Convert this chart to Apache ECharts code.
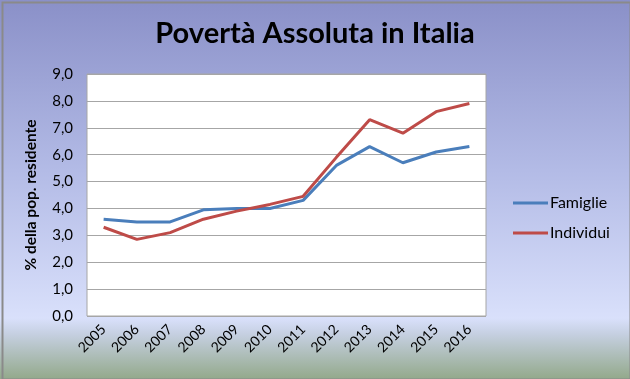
<!DOCTYPE html>
<html><head><meta charset="utf-8">
<script src="https://cdn.jsdelivr.net/npm/echarts@6/dist/echarts.min.js"></script>
<style>html,body{margin:0;padding:0;}#c{width:630px;height:379px;}</style>
</head><body><div id="c"></div>
<script>
var years = ['2005','2006','2007','2008','2009','2010','2011','2012','2013','2014','2015','2016'];
var famiglie = [3.6, 3.5, 3.5, 3.95, 4.0, 4.0, 4.3, 5.6, 6.3, 5.7, 6.1, 6.3];
var individui = [3.3, 2.85, 3.1, 3.6, 3.9, 4.15, 4.45, 5.9, 7.3, 6.8, 7.6, 7.9];
var seriesNames = ['Famiglie', 'Individui'];
var titleText = 'Povertà Assoluta in Italia';
var yAxisName = '% della pop. residente';

var chart = echarts.init(document.getElementById('c'), null, {renderer: 'canvas'});
var font = 'Lato, "Open Sans", sans-serif';
chart.setOption({
  animation: false,
  backgroundColor: {
    type: 'linear', x: 0, y: 0, x2: 0, y2: 1,
    colorStops: [
      {offset: 0, color: '#8a90c8'},
      {offset: 0.45, color: '#b3bbe6'},
      {offset: 0.84, color: '#d9e0fb'},
      {offset: 0.88, color: '#c6d0e2'},
      {offset: 1, color: '#93a98b'}
    ]
  },
  graphic: [{
    type: 'rect', left: 0, top: 0, z: 100, silent: true,
    shape: {x: 1, y: 1, width: 628, height: 377},
    style: {fill: 'none', stroke: '#8a8a8a', lineWidth: 2}
  }],
  title: {
    text: titleText, left: 'center', top: 14,
    textStyle: {fontFamily: font, fontWeight: 'bold', fontSize: 29, color: '#000'}
  },
  grid: {left: 87, right: 144, top: 74, bottom: 63, show: true, backgroundColor: '#fff', borderColor: '#a6a6a6', borderWidth: 1},
  legend: {
    orient: 'vertical', left: 508, top: 190, itemGap: 14,
    itemWidth: 35, itemHeight: 3, icon: 'rect',
    data: seriesNames,
    textStyle: {fontFamily: font, fontSize: 16, color: '#000', padding: [0,0,0,-3]}
  },
  xAxis: {
    type: 'category', data: years, boundaryGap: true,
    axisLine: {show: false}, axisTick: {show: false},
    axisLabel: {rotate: 45, fontFamily: font, fontSize: 14, color: '#000', margin: 11, interval: 0}
  },
  yAxis: {
    type: 'value', min: 0, max: 9, interval: 1,
    name: yAxisName, nameLocation: 'middle', nameGap: 48,
    nameTextStyle: {fontFamily: font, fontWeight: 'bold', fontSize: 15.5, color: '#000'},
    axisLine: {show: false}, axisTick: {show: false},
    splitLine: {lineStyle: {color: '#a6a6a6', width: 1}},
    axisLabel: {fontFamily: font, fontSize: 15, color: '#000', margin: 14,
      formatter: function (v) { return v.toFixed(1).replace('.', ','); }}
  },
  series: [
    {name: seriesNames[0], type: 'line', data: famiglie, symbol: 'none', lineStyle: {color: '#4a7ebb', width: 3}, itemStyle: {color: '#4a7ebb'}},
    {name: seriesNames[1], type: 'line', data: individui, symbol: 'none', lineStyle: {color: '#be4b48', width: 3}, itemStyle: {color: '#be4b48'}}
  ]
});
</script></body></html>
